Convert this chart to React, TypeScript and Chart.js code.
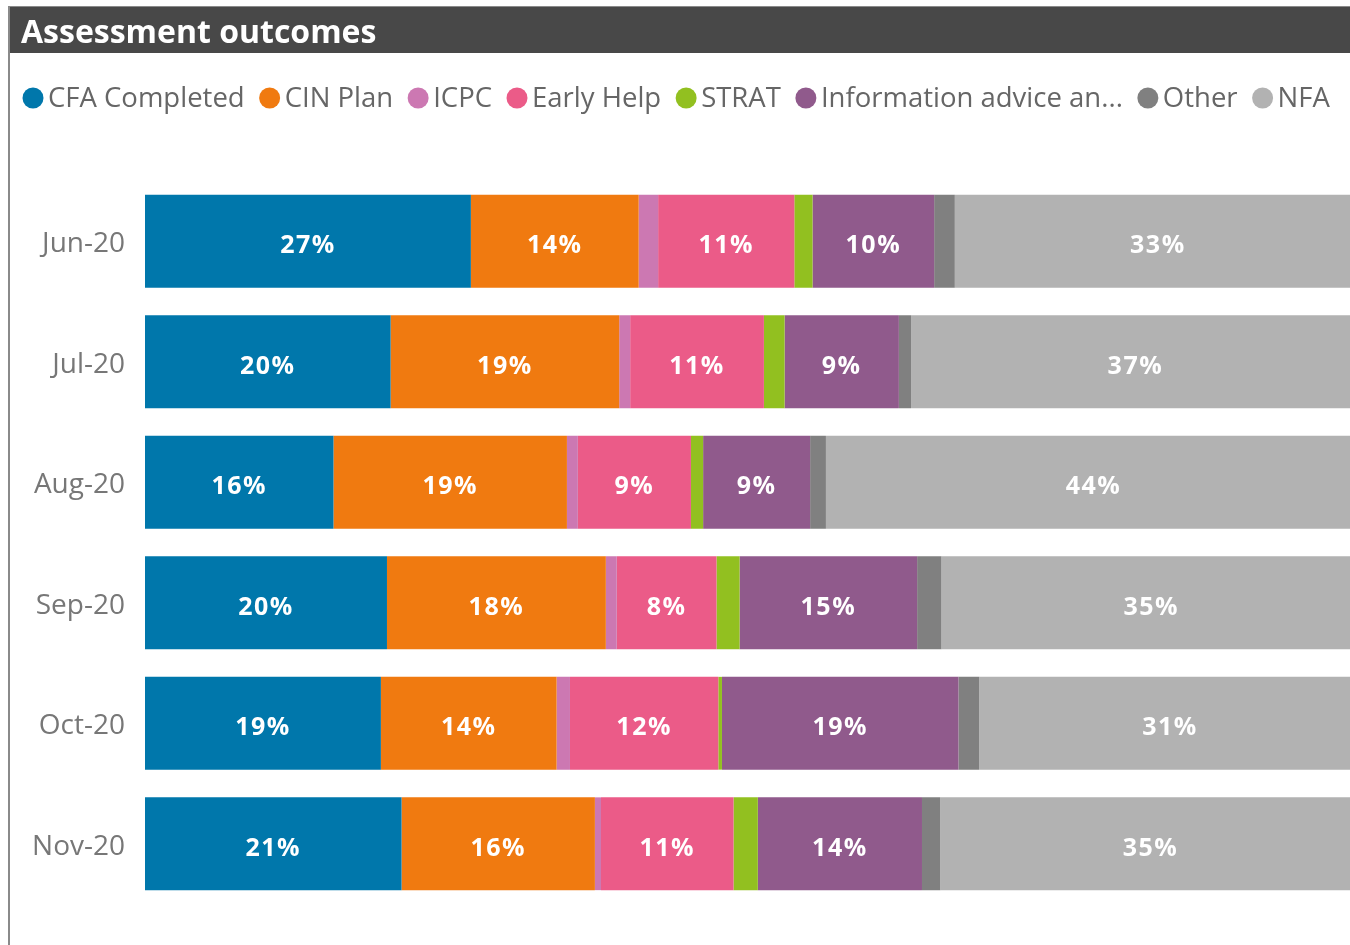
import React, { useEffect, useRef } from "react";
import { Chart, registerables } from "chart.js";

Chart.register(...registerables);

const categories = ["Jun-20", "Jul-20", "Aug-20", "Sep-20", "Oct-20", "Nov-20"];
const seriesNames = [
  "CFA Completed",
  "CIN Plan",
  "ICPC",
  "Early Help",
  "STRAT",
  "Information advice an...",
  "Other",
  "NFA",
];
const seriesColors = ["#0077AB", "#F07A10", "#CC78B2", "#EB5B88", "#92C020", "#905A8C", "#808080", "#B2B2B2"];
const cfaCompleted = [26.8, 20.2, 15.5, 19.9, 19.4, 21.1];
const cinPlan = [13.8, 18.8, 19.2, 18.0, 14.45, 15.9];
const icpc = [1.6, 0.9, 0.9, 0.9, 1.1, 0.5];
const earlyHelp = [11.2, 11.0, 9.3, 8.2, 12.2, 10.9];
const strat = [1.5, 1.7, 1.0, 1.9, 0.3, 2.0];
const infoAdvice = [10.0, 9.4, 8.8, 14.6, 19.45, 13.5];
const other = [1.7, 1.0, 1.3, 2.0, 1.7, 1.5];
const nfa = [33.4, 36.9, 44.0, 34.5, 31.4, 34.6];
const seriesValues = [cfaCompleted, cinPlan, icpc, earlyHelp, strat, infoAdvice, other, nfa];
const chartTitle = "Assessment outcomes";

const FONT = "'Open Sans', 'Noto Sans', sans-serif";

const decorPlugin = {
  id: "decor",
  beforeDraw(chart: any) {
    const ctx = chart.ctx;
    ctx.save();
    ctx.fillStyle = "#ffffff";
    ctx.fillRect(0, 0, chart.width, chart.height);
    // frame
    ctx.fillStyle = "#8a8a8a";
    ctx.fillRect(8, 6, 2, chart.height - 6);
    ctx.fillRect(8, 6, chart.width - 8, 1);
    // title bar
    ctx.fillStyle = "#484848";
    ctx.fillRect(10, 7, chart.width - 10, 46);
    ctx.fillStyle = "#ffffff";
    ctx.font = `bold 32px ${FONT}`;
    ctx.textBaseline = "middle";
    ctx.textAlign = "left";
    ctx.fillText(chartTitle, 21, 34);
    // legend
    ctx.font = `27.5px ${FONT}`;
    let x = 22;
    const cy = 98;
    chart.data.datasets.forEach((ds: any) => {
      const cx = x + 11;
      ctx.beginPath();
      ctx.arc(cx, cy, 10.5, 0, Math.PI * 2);
      ctx.fillStyle = ds.backgroundColor;
      ctx.fill();
      ctx.fillStyle = "#666666";
      const tx = cx + 15;
      ctx.fillText(ds.label, tx, cy + 1);
      x = tx + ctx.measureText(ds.label).width + 14;
    });
    ctx.restore();
  },
  afterDatasetsDraw(chart: any) {
    const ctx = chart.ctx;
    ctx.save();
    ctx.font = `bold 25px ${FONT}`;
    try { (ctx as any).letterSpacing = "1.5px"; } catch (e) {}
    ctx.fillStyle = "#ffffff";
    ctx.textAlign = "center";
    ctx.textBaseline = "middle";
    chart.data.datasets.forEach((ds: any, di: number) => {
      const meta = chart.getDatasetMeta(di);
      meta.data.forEach((bar: any, i: number) => {
        const v = ds.data[i];
        if (v < 5) return;
        const cx = (bar.x + bar.base) / 2;
        ctx.fillText(Math.round(v) + "%", cx, bar.y + 5);
      });
    });
    ctx.restore();
  },
};

export default function App() {
  const ref = useRef<HTMLCanvasElement>(null);
  useEffect(() => {
    if (!ref.current) return;
    const chart = new Chart(ref.current, {
      type: "bar",
      data: {
        labels: categories,
        datasets: seriesNames.map((name, i) => ({
          label: name,
          data: seriesValues[i],
          backgroundColor: seriesColors[i],
          borderWidth: 0,
          categoryPercentage: 1,
          barPercentage: 0.77,
        })),
      },
      options: {
        indexAxis: "y",
        animation: false,
        responsive: false,
        maintainAspectRatio: false,
        layout: { padding: { top: 181, bottom: 41, left: 0, right: 0 } },
        plugins: {
          legend: { display: false },
          tooltip: { enabled: false },
          title: { display: false },
        },
        scales: {
          x: {
            stacked: true,
            display: false,
            min: 0,
            max: 99.1,
          },
          y: {
            stacked: true,
            grid: { display: false, drawTicks: false },
            border: { display: false },
            ticks: {
              color: "#777777",
              font: { family: FONT, size: 28 },
              padding: 20,
              labelOffset: 3,
            },
            afterFit(scale: any) {
              scale.width = 145;
            },
          },
        },
      },
      plugins: [decorPlugin],
    } as any);
    return () => chart.destroy();
  }, []);
  return (
    <div style={{ position: "fixed", left: 0, top: 0, width: 1350, height: 945, overflow: "hidden", background: "#fff" }}>
      <canvas ref={ref} width={1350} height={945} style={{ display: "block", width: 1350, height: 945 }} />
    </div>
  );
}
